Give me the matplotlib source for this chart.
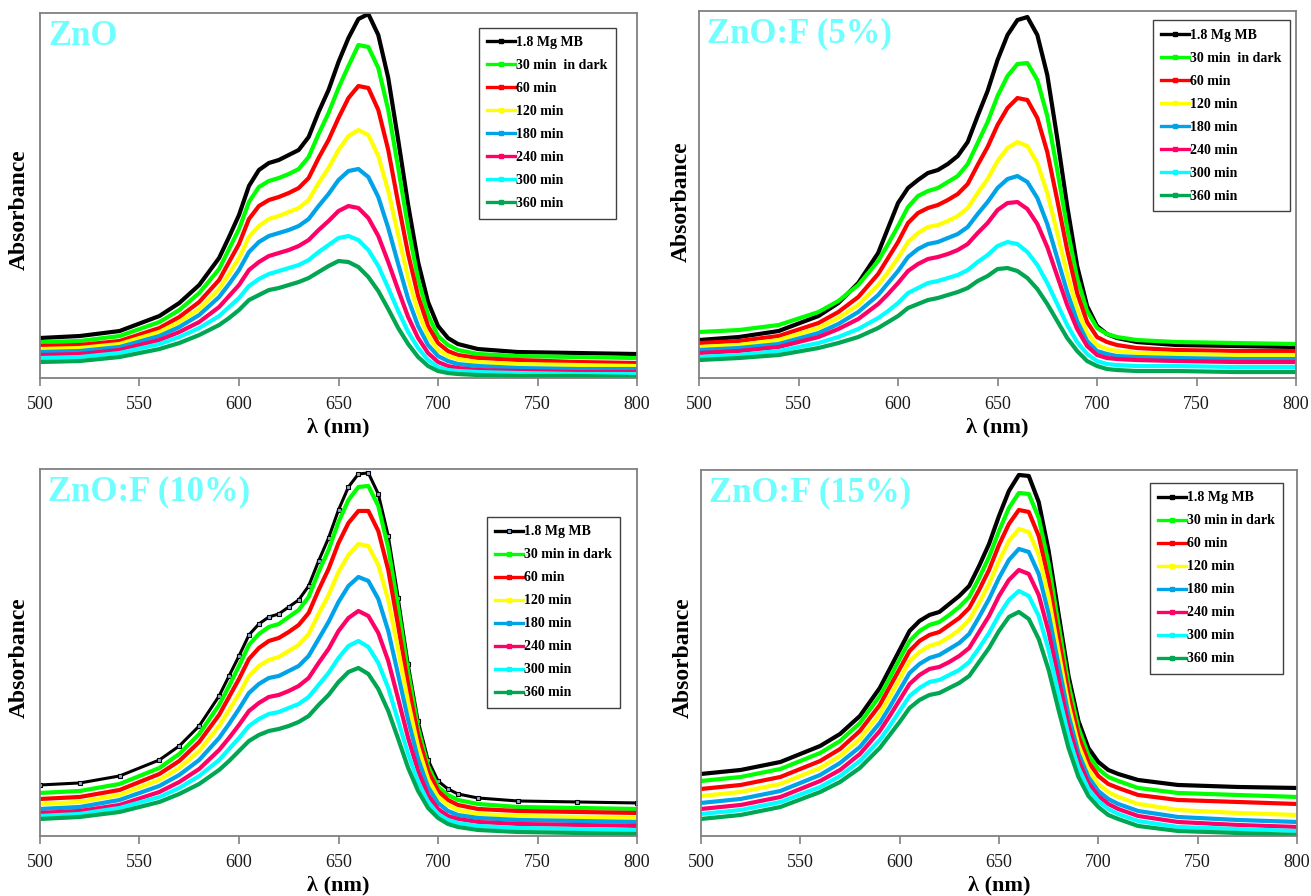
import matplotlib
matplotlib.use("Agg")
import matplotlib.pyplot as plt
from matplotlib.lines import Line2D

plt.rcParams['font.family'] = ['Liberation Serif', 'DejaVu Serif']

WL = [500, 520, 540, 560, 570, 580, 590, 595, 600, 605, 610, 615, 620, 625,
      630, 635, 640, 645, 650, 655, 660, 665, 670, 675, 680, 685, 690, 695,
      700, 705, 710, 720, 740, 770, 800]

LABELS_A = ["1.8 Mg MB", "30 min  in dark", "60 min", "120 min", "180 min",
            "240 min", "300 min", "360 min"]
LABELS_B = ["1.8 Mg MB", "30 min in dark", "60 min", "120 min", "180 min",
            "240 min", "300 min", "360 min"]
COLORS = ["#000000", "#00FF00", "#FF0000", "#FFFF00", "#00A2E8",
          "#FF0066", "#00FFFF", "#00A651"]

# absorbance, arbitrary units
ZNO = [
  [40, 42, 47, 62, 75, 93, 120, 141, 163, 192, 208, 215, 218, 223, 228, 241, 266, 288, 316, 340, 359, 364, 343, 300, 238, 173, 116, 76, 52, 40, 34, 29, 26, 25, 24],
  [36, 37, 42, 56, 68, 85, 109, 129, 149, 176, 191, 197, 200, 204, 209, 221, 244, 265, 290, 312, 333, 331, 310, 268, 210, 150, 99, 63, 42, 33, 28, 24, 22, 21, 20],
  [32, 33, 37, 50, 61, 76, 98, 116, 134, 159, 172, 178, 181, 185, 190, 200, 220, 238, 260, 280, 292, 290, 268, 228, 175, 124, 82, 52, 35, 27, 23, 20, 18, 16, 15],
  [29, 30, 34, 46, 56, 69, 89, 104, 120, 141, 152, 159, 162, 166, 170, 178, 195, 210, 228, 242, 248, 243, 222, 187, 143, 100, 66, 42, 28, 22, 19, 16, 14, 13, 12],
  [26, 27, 31, 42, 51, 63, 81, 94, 108, 126, 136, 142, 145, 148, 152, 159, 172, 184, 198, 207, 209, 201, 181, 150, 114, 79, 52, 33, 22, 17, 14, 12, 10, 9, 9],
  [23, 24, 28, 38, 46, 56, 71, 82, 93, 108, 116, 122, 125, 128, 132, 138, 148, 157, 167, 172, 170, 160, 142, 116, 88, 61, 40, 25, 16, 12, 10, 8, 7, 6, 6],
  [20, 21, 25, 34, 41, 50, 62, 71, 80, 92, 99, 104, 107, 110, 113, 118, 126, 133, 140, 142, 138, 128, 112, 90, 67, 46, 30, 18, 11, 8, 7, 6, 5, 4, 4],
  [16, 17, 21, 29, 35, 43, 53, 60, 68, 78, 83, 88, 90, 93, 96, 100, 106, 112, 117, 116, 111, 101, 87, 69, 50, 34, 21, 12, 7, 5, 4, 3, 2, 2, 1],
]

ZNOF5 = [
  [38, 41, 47, 62, 75, 95, 125, 150, 175, 190, 198, 205, 208, 214, 222, 236, 262, 287, 318, 343, 358, 361, 343, 303, 240, 172, 112, 72, 52, 44, 40, 36, 33, 32, 31],
  [46, 48, 53, 66, 77, 93, 117, 134, 152, 171, 182, 187, 190, 196, 202, 214, 235, 256, 282, 302, 314, 315, 298, 262, 208, 150, 100, 67, 50, 44, 41, 38, 36, 35, 34],
  [35, 37, 42, 55, 66, 81, 104, 120, 136, 155, 165, 170, 173, 178, 184, 194, 213, 231, 253, 270, 280, 278, 260, 226, 178, 128, 85, 56, 41, 36, 33, 30, 28, 27, 27],
  [31, 33, 38, 50, 60, 73, 93, 106, 120, 136, 145, 151, 153, 157, 162, 170, 185, 199, 217, 230, 236, 232, 215, 185, 145, 104, 69, 45, 33, 29, 27, 25, 24, 23, 23],
  [28, 30, 34, 45, 54, 66, 83, 95, 107, 121, 129, 134, 136, 140, 144, 151, 164, 176, 190, 199, 202, 196, 180, 154, 120, 86, 57, 37, 27, 24, 22, 21, 20, 19, 19],
  [25, 27, 31, 41, 49, 59, 74, 84, 95, 107, 114, 119, 121, 124, 128, 134, 145, 155, 168, 175, 176, 169, 154, 131, 102, 73, 49, 32, 23, 20, 19, 18, 17, 16, 16],
  [21, 23, 27, 35, 41, 49, 60, 67, 75, 85, 90, 95, 97, 100, 103, 108, 116, 123, 132, 136, 134, 126, 113, 95, 74, 53, 36, 24, 17, 14, 13, 12, 12, 11, 11],
  [18, 20, 23, 30, 35, 41, 50, 56, 62, 70, 74, 78, 80, 83, 86, 90, 97, 102, 109, 110, 107, 100, 89, 74, 57, 40, 27, 17, 12, 9, 8, 7, 7, 6, 6],
]

ZNOF10 = [
  [51, 53, 60, 76, 90, 110, 140, 160, 180, 201, 212, 219, 222, 229, 236, 250, 275, 298, 326, 349, 362, 363, 342, 300, 238, 172, 115, 76, 55, 47, 42, 38, 35, 34, 33],
  [43, 45, 52, 68, 82, 102, 131, 150, 170, 191, 202, 209, 212, 219, 226, 239, 264, 286, 314, 336, 349, 350, 330, 288, 228, 164, 108, 70, 49, 41, 36, 32, 29, 28, 27],
  [37, 39, 46, 62, 75, 94, 121, 139, 157, 177, 188, 195, 198, 204, 211, 223, 246, 267, 293, 313, 325, 325, 305, 266, 210, 151, 100, 65, 45, 36, 31, 27, 25, 24, 23],
  [32, 34, 41, 56, 68, 85, 110, 126, 142, 160, 170, 176, 179, 185, 191, 202, 222, 241, 264, 281, 292, 290, 271, 236, 186, 134, 89, 57, 39, 31, 26, 22, 20, 19, 18],
  [27, 29, 36, 50, 61, 76, 98, 112, 127, 143, 152, 158, 160, 165, 170, 180, 197, 214, 234, 250, 259, 255, 237, 205, 161, 116, 77, 49, 33, 25, 21, 18, 16, 15, 14],
  [23, 25, 31, 44, 54, 67, 86, 98, 111, 125, 133, 139, 141, 145, 150, 158, 173, 187, 205, 218, 225, 220, 203, 175, 137, 98, 65, 41, 27, 20, 17, 14, 12, 11, 10],
  [20, 22, 28, 39, 48, 60, 76, 87, 98, 110, 117, 122, 124, 128, 132, 139, 151, 163, 178, 190, 195, 189, 173, 148, 115, 82, 54, 34, 22, 16, 13, 10, 8, 7, 6],
  [17, 19, 24, 34, 42, 52, 66, 75, 85, 95, 101, 105, 107, 110, 114, 120, 131, 141, 154, 164, 168, 162, 147, 125, 97, 68, 45, 28, 18, 12, 9, 6, 4, 3, 2],
]

ZNOF15 = [
  [62, 66, 74, 90, 102, 120, 148, 167, 186, 205, 215, 221, 224, 232, 240, 250, 270, 292, 320, 345, 361, 360, 334, 285, 222, 160, 115, 88, 74, 66, 62, 56, 51, 49, 48],
  [55, 59, 67, 83, 95, 113, 140, 158, 177, 195, 205, 211, 214, 221, 229, 239, 258, 279, 305, 328, 343, 342, 318, 272, 211, 152, 108, 81, 67, 59, 55, 48, 43, 41, 39],
  [47, 51, 59, 75, 87, 105, 131, 149, 167, 185, 195, 201, 204, 211, 218, 228, 246, 266, 291, 312, 326, 324, 300, 256, 198, 142, 100, 74, 60, 52, 48, 41, 36, 34, 32],
  [40, 44, 52, 68, 80, 97, 122, 139, 157, 175, 184, 190, 193, 199, 206, 216, 233, 252, 275, 295, 307, 304, 281, 239, 184, 131, 91, 66, 52, 44, 39, 32, 26, 23, 21],
  [33, 37, 45, 61, 73, 89, 113, 129, 146, 163, 172, 178, 181, 187, 193, 202, 219, 237, 258, 276, 287, 284, 262, 222, 171, 121, 83, 59, 45, 37, 32, 25, 19, 16, 14],
  [27, 31, 39, 55, 66, 82, 105, 120, 136, 152, 161, 167, 169, 174, 180, 188, 204, 220, 240, 256, 266, 262, 241, 204, 157, 111, 76, 53, 40, 32, 27, 20, 14, 11, 9],
  [22, 26, 34, 49, 60, 75, 96, 110, 125, 140, 148, 154, 156, 161, 166, 174, 188, 203, 221, 236, 245, 240, 220, 186, 142, 100, 68, 47, 35, 27, 22, 15, 9, 7, 5],
  [17, 21, 29, 44, 54, 68, 88, 101, 114, 128, 136, 141, 143, 148, 153, 160, 174, 188, 205, 219, 224, 217, 197, 166, 126, 88, 59, 40, 29, 21, 17, 10, 5, 3, 1],
]

# data, title, axes rect, y top, legend labels, legend anchor, ylabel coords
panels = [
  (ZNO, "ZnO", [0.0305, 0.5781, 0.4554, 0.4074], 365, LABELS_A, (0.965, 0.959), (-0.017, 0.46)),
  (ZNOF5, "ZnO:F (5%)", [0.5332, 0.5781, 0.4554, 0.4096], 367, LABELS_A, (0.990, 0.975), (-0.012, 0.48)),
  (ZNOF10, "ZnO:F (10%)", [0.0305, 0.0670, 0.4554, 0.4096], 367, LABELS_B, (0.972, 0.869), (-0.017, 0.485)),
  (ZNOF15, "ZnO:F (15%)", [0.5347, 0.0670, 0.4546, 0.4085], 366, LABELS_B, (0.977, 0.964), (-0.012, 0.487)),
]

fig = plt.figure(figsize=(13.11, 8.96), dpi=100)

for i, (data, title, rect, ytop, labels, anchor, ylab_xy) in enumerate(panels):
  ax = fig.add_axes(rect)
  handles = []
  for j, (vals, col, lab) in enumerate(zip(data, COLORS, labels)):
    if i == 2 and j == 0:
      # open squares on the first curve of this panel
      ax.plot(WL, vals, color=col, lw=2.2, marker='s', ms=3.5, mfc='#8fa6cc',
              mec=col, mew=0.8)
      handles.append(Line2D([], [], color=col, lw=2.4, marker='s', ms=3.5,
                            mfc='#8fa6cc', mec=col, mew=0.8, label=lab))
    else:
      ax.plot(WL, vals, color=col, lw=3.0, solid_joinstyle='round')
      handles.append(Line2D([], [], color=col, lw=2.4, marker='s', ms=3.5,
                            label=lab))
  ax.set_xlim(500, 800)
  ax.set_ylim(0, ytop)
  ax.set_xticks(range(500, 801, 50))
  ax.set_yticks([])
  for s in ax.spines.values():
    s.set_color('#808080')
    s.set_linewidth(1.3)
  ax.tick_params(axis='x', direction='out', length=6, width=1.2, color='#808080',
                 labelsize=13, pad=7, labelcolor='#1a1a1a')
  ax.set_xlabel("λ (nm)", fontsize=16, fontweight='bold', labelpad=3)
  ax.set_ylabel("Absorbance", fontsize=17, fontweight='bold')
  ax.yaxis.set_label_coords(*ylab_xy)
  ax.text(0.014, 0.982, title, transform=ax.transAxes, ha='left', va='top',
          fontsize=25, fontweight='bold', color='#70FFFF')
  leg = ax.legend(handles=handles, loc='upper right', bbox_to_anchor=anchor,
                  prop={'weight': 'bold', 'size': 10}, frameon=True, fancybox=False,
                  edgecolor='#404040', framealpha=1, handlelength=2.0,
                  handletextpad=0.1, labelspacing=0.72, borderpad=0.6,
                  borderaxespad=0)
  leg.get_frame().set_linewidth(1.0)

fig.savefig("out.png", dpi=100)
